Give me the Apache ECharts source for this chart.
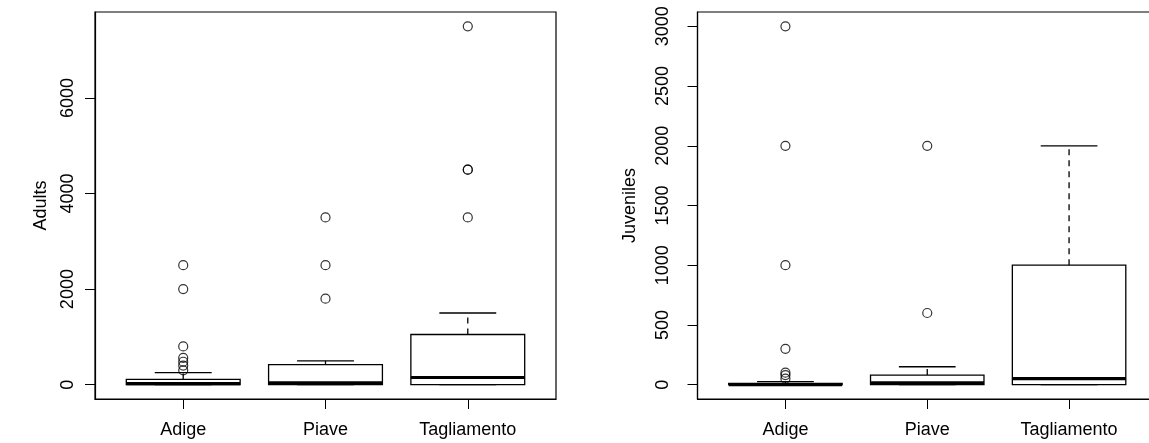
<!DOCTYPE html>
<html>
<head>
<meta charset="utf-8">
<script src="https://cdn.jsdelivr.net/npm/echarts@6/dist/echarts.min.js"></script>
<style>
  html, body { margin: 0; padding: 0; background: #fff; }
  #chart { width: 1149px; height: 443px; }
</style>
</head>
<body>
<div id="chart"></div>
<script>
// River categories shared by both panels
const categories = ['Adige', 'Piave', 'Tagliamento'];

// Five-number summaries: [lower whisker, Q1, median, Q3, upper whisker]
const adultsStats = [
  [0, 0, 20, 110, 250],
  [0, 0, 40, 420, 500],
  [0, 0, 150, 1050, 1500]
];
const adultsOutliers = [
  [2500, 2000, 800, 560, 480, 400, 300],
  [3500, 2500, 1800],
  [7500, 4500, 4500, 3500]
];

const juvenilesStats = [
  [0, 0, 0, 10, 25],
  [0, 0, 15, 80, 150],
  [0, 0, 50, 1000, 2000]
];
const juvenilesOutliers = [
  [3000, 2000, 1000, 300, 100, 80, 50],
  [2000, 600],
  []
];

// Axis ticks
const adultsTicks = [0, 2000, 4000, 6000];
const juvenilesTicks = [0, 500, 1000, 1500, 2000, 2500, 3000];
const categoryTicks = [1, 2, 3];

const FONT = "'Liberation Sans', Arial, Helvetica, sans-serif";
const FS = 18;

function yRange(stats, outliers) {
  let lo = Infinity, hi = -Infinity;
  stats.forEach(s => { lo = Math.min(lo, s[0]); hi = Math.max(hi, s[4]); });
  outliers.forEach(o => o.forEach(v => { lo = Math.min(lo, v); hi = Math.max(hi, v); }));
  const pad = (hi - lo) * 0.04;
  return [lo - pad, hi + pad];
}

// Box with dashed whiskers, short staples and a heavy median bar
function boxRender(params, api) {
  const x = api.value(0);
  const lo = api.coord([x, api.value(1)]);
  const q1 = api.coord([x, api.value(2)]);
  const med = api.coord([x, api.value(3)]);
  const q3 = api.coord([x, api.value(4)]);
  const hi = api.coord([x, api.value(5)]);
  const half = api.size([0.8, 0])[0] / 2;
  const sHalf = half / 2;
  const cx = q1[0];
  const thin = { stroke: '#000', lineWidth: 1.3, fill: null };
  const dashed = { stroke: '#000', lineWidth: 1.3, lineDash: [6, 5] };
  return {
    type: 'group',
    children: [
      { type: 'line', shape: { x1: cx, y1: q3[1], x2: cx, y2: hi[1] }, style: dashed },
      { type: 'line', shape: { x1: cx, y1: q1[1], x2: cx, y2: lo[1] }, style: dashed },
      { type: 'line', shape: { x1: cx - sHalf, y1: hi[1], x2: cx + sHalf, y2: hi[1] }, style: thin },
      { type: 'line', shape: { x1: cx - sHalf, y1: lo[1], x2: cx + sHalf, y2: lo[1] }, style: thin },
      { type: 'rect', shape: { x: cx - half, y: q3[1], width: half * 2, height: q1[1] - q3[1] }, style: thin },
      { type: 'line', shape: { x1: cx - half, y1: med[1], x2: cx + half, y2: med[1] }, style: { stroke: '#000', lineWidth: 3.2 } }
    ]
  };
}

function xAxisFor(gridIndex) {
  return {
    type: 'value', gridIndex, min: 0.38, max: 3.62,
    splitLine: { show: false },
    axisLine: { show: true, onZero: false, lineStyle: { color: '#000', width: 1.2 } },
    axisTick: { show: true, customValues: categoryTicks, length: 10, lineStyle: { color: '#000', width: 1 } },
    axisLabel: {
      customValues: categoryTicks, margin: 22,
      formatter: v => categories[Math.round(v) - 1],
      color: '#000', fontFamily: FONT, fontSize: FS
    }
  };
}

function yAxisFor(gridIndex, name, range, ticks, labelMargin, nameGap) {
  return {
    type: 'value', gridIndex, name, nameLocation: 'middle', nameGap,
    nameTextStyle: { color: '#000', fontFamily: FONT, fontSize: FS },
    min: range[0], max: range[1],
    splitLine: { show: false },
    axisLine: { show: true, onZero: false, lineStyle: { color: '#000', width: 1.2 } },
    axisTick: { show: true, customValues: ticks, length: 10, lineStyle: { color: '#000', width: 1 } },
    axisLabel: {
      customValues: ticks, rotate: 90, margin: labelMargin,
      formatter: v => String(v),
      color: '#000', fontFamily: FONT, fontSize: FS
    }
  };
}

const adultsRange = yRange(adultsStats, adultsOutliers);
const juvenilesRange = yRange(juvenilesStats, juvenilesOutliers);

const toBox = stats => stats.map((s, i) => [i + 1].concat(s));
const toPoints = outs => outs.flatMap((o, i) => o.map(v => [i + 1, v]));

const outlierStyle = {
  type: 'scatter', symbol: 'circle', symbolSize: 9, silent: true,
  itemStyle: { color: 'rgba(0,0,0,0)', borderColor: '#000', borderWidth: 1.2 }
};

const chart = echarts.init(document.getElementById('chart'), null, { renderer: 'canvas' });
chart.setOption({
  animation: false,
  backgroundColor: '#fff',
  grid: [
    { left: 95, top: 12, width: 461, height: 387, outerBoundsMode: 'none', containLabel: false,
      show: true, borderColor: '#000', borderWidth: 1.2, backgroundColor: 'transparent' },
    { left: 697.5, top: 12, width: 459.5, height: 387, outerBoundsMode: 'none', containLabel: false,
      show: true, borderColor: '#000', borderWidth: 1.2, backgroundColor: 'transparent' }
  ],
  xAxis: [xAxisFor(0), xAxisFor(1)],
  yAxis: [
    yAxisFor(0, 'Adults', adultsRange, adultsTicks, 18, 45),
    yAxisFor(1, 'Juveniles', juvenilesRange, juvenilesTicks, 25, 58)
  ],
  series: [
    { type: 'custom', xAxisIndex: 0, yAxisIndex: 0, renderItem: boxRender,
      encode: { x: 0, y: [1, 2, 3, 4, 5] }, data: toBox(adultsStats) },
    Object.assign({ xAxisIndex: 0, yAxisIndex: 0, data: toPoints(adultsOutliers) }, outlierStyle),
    { type: 'custom', xAxisIndex: 1, yAxisIndex: 1, renderItem: boxRender,
      encode: { x: 0, y: [1, 2, 3, 4, 5] }, data: toBox(juvenilesStats) },
    Object.assign({ xAxisIndex: 1, yAxisIndex: 1, data: toPoints(juvenilesOutliers) }, outlierStyle)
  ]
});
</script>
</body>
</html>
